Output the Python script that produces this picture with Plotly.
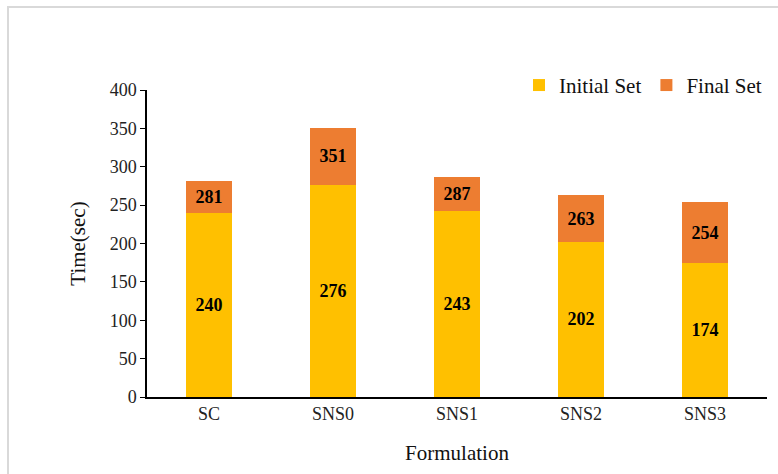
import plotly.graph_objects as go

# Setting times per formulation (seconds)
formulations = ["SC", "SNS0", "SNS1", "SNS2", "SNS3"]
initial_set = [240, 276, 243, 202, 174]
final_set = [281, 351, 287, 263, 254]
y_ticks = [0, 50, 100, 150, 200, 250, 300, 350, 400]

# The final-set segment spans from the initial set time up to the final set time
final_extra = [f - i for f, i in zip(final_set, initial_set)]

FONT = "Liberation Serif"

fig = go.Figure()
fig.add_trace(go.Bar(
    name="Initial Set", x=formulations, y=initial_set,
    marker=dict(color="#FFC000", line=dict(width=0)),
    text=[str(v) for v in initial_set], textposition="inside",
    insidetextanchor="middle", textangle=0,
    textfont=dict(family=FONT, size=18, color="black", weight="bold"),
))
fig.add_trace(go.Bar(
    name="Final Set", x=formulations, y=final_extra,
    marker=dict(color="#ED7D31", line=dict(width=0)),
    text=[str(v) for v in final_set], textposition="inside",
    insidetextanchor="middle", textangle=0,
    textfont=dict(family=FONT, size=18, color="black", weight="bold"),
))

fig.update_layout(
    width=778, height=474,
    barmode="stack", bargap=0.63,
    plot_bgcolor="white", paper_bgcolor="white",
    margin=dict(l=147, r=11, t=90, b=77),
    font=dict(family=FONT, size=18, color="#222222"),
    uniformtext=dict(minsize=8, mode="show"),
    legend=dict(
        orientation="h", x=1.0, xanchor="right", y=1.015, yanchor="middle",
        font=dict(family=FONT, size=21, color="#111111"),
        itemwidth=30, traceorder="normal", bgcolor="rgba(0,0,0,0)",
        tracegroupgap=0,
    ),
    xaxis=dict(
        title=dict(text="Formulation", font=dict(family=FONT, size=21, color="#111111"), standoff=22),
        showline=True, linecolor="black", linewidth=1.5,
        ticks="", showgrid=False, tickfont=dict(family=FONT, size=18, color="#222222"),
    ),
    yaxis=dict(
        title=dict(text="Time(sec)", font=dict(family=FONT, size=21, color="#111111"), standoff=18),
        range=[0, 400], tickvals=y_ticks, showline=True, linecolor="black", linewidth=1.5,
        ticks="outside", ticklen=5, tickcolor="black", showgrid=False, zeroline=False,
        tickfont=dict(family=FONT, size=18, color="#222222"),
    ),
    shapes=[dict(
        type="rect", xref="paper", yref="paper",
        x0=(8 - 147) / 620, x1=1.2, y0=-0.5, y1=(397 - 7) / 307,
        line=dict(color="#D9D9D9", width=2), fillcolor="rgba(0,0,0,0)", layer="below",
    )],
)

fig.write_html("out.html")
